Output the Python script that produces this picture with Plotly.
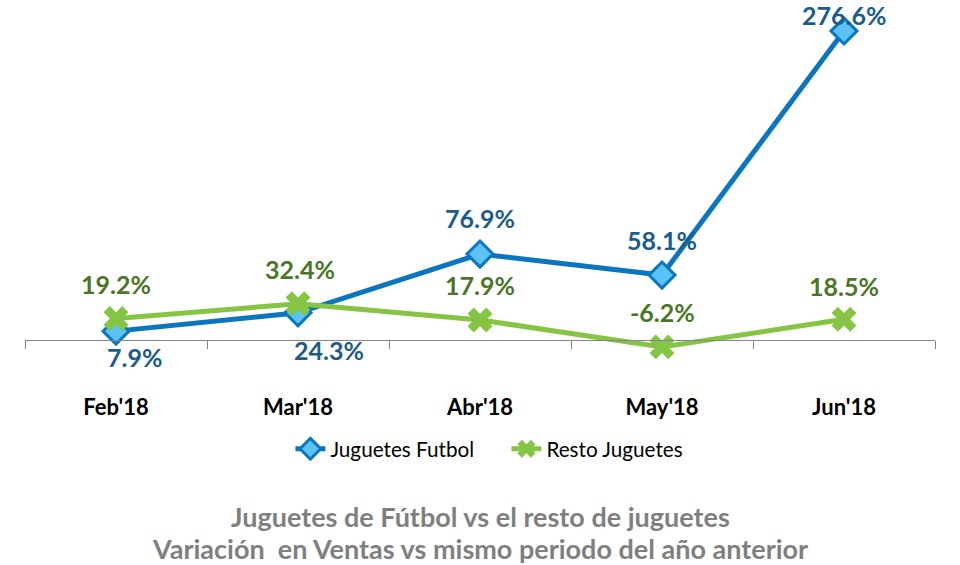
import plotly.graph_objects as go

months = ["Feb'18", "Mar'18", "Abr'18", "May'18", "Jun'18"]
futbol = [7.9, 24.3, 76.9, 58.1, 276.6]
resto = [19.2, 32.4, 17.9, -6.2, 18.5]

# label offsets (px) per point, blue then green
futbol_shift = [(18, -26), (31, -37), (0, 36), (0, 35), (0, 16)]
resto_shift = [(0, 35), (2, 35), (0, 35), (0, 35), (0, 33)]

BLUE = "#0A76C0"
BLUE_FILL = "#5BC2F5"
BLUE_TXT = "#1B5C8C"
GREEN = "#86C543"
GREEN_TXT = "#4A7626"
FONT = "Lato"

fig = go.Figure()
fig.add_trace(go.Scatter(
    x=months, y=futbol, name="Juguetes Futbol", mode="lines+markers",
    line=dict(color=BLUE, width=5),
    marker=dict(symbol="diamond", size=20, color=BLUE_FILL, line=dict(color=BLUE, width=3)),
    cliponaxis=False,
))
fig.add_trace(go.Scatter(
    x=months, y=resto, name="Resto Juguetes", mode="lines+markers",
    line=dict(color=GREEN, width=5),
    marker=dict(symbol="x", size=22, color=GREEN, line=dict(width=0)),
    cliponaxis=False,
))

for vals, shifts, col in [(futbol, futbol_shift, BLUE_TXT), (resto, resto_shift, GREEN_TXT)]:
    for m, v, (dx, dy) in zip(months, vals, shifts):
        fig.add_annotation(
            x=m, y=v, text=f"{v:.1f}%", showarrow=False,
            xshift=dx, yshift=dy,
            font=dict(family=FONT, size=25, color=col, weight="bold"),
        )

ymin, ymax = -26.9, 295.4
zero_pos = (0 - ymin) / (ymax - ymin)

title_font = dict(family=FONT, size=27, color="#7F7F7F", weight="bold")
fig.add_annotation(
    x=0.5, y=-0.406, xref="paper", yref="paper", showarrow=False,
    xanchor="center", yanchor="middle",
    text="Juguetes de Fútbol vs el resto de juguetes", font=title_font,
)
fig.add_annotation(
    x=0.5, y=-0.497, xref="paper", yref="paper", showarrow=False,
    xanchor="center", yanchor="middle",
    text="Variación  en Ventas vs mismo periodo del año anterior", font=title_font,
)

fig.update_layout(
    width=960, height=565,
    margin=dict(l=25, r=25, t=10, b=195),
    paper_bgcolor="white", plot_bgcolor="white",
    showlegend=True,
    legend=dict(
        orientation="h", x=0.529, xanchor="center", y=-0.219, yanchor="middle",
        font=dict(family=FONT, size=20.7, color="black"),
        entrywidth=171, entrywidthmode="pixels",
    ),
    xaxis=dict(
        anchor="free", position=zero_pos,
        showline=True, linecolor="#868686", linewidth=1,
        ticks="outside", tickson="boundaries", ticklen=8, tickcolor="#868686",
        showgrid=False, ticklabelstandoff=48,
        tickfont=dict(family=FONT, size=22, color="black", weight="bold"),
        range=[-0.5, 4.5],
    ),
    yaxis=dict(range=[ymin, ymax], visible=False, showgrid=False, zeroline=False),
)

# drop the default 8px page margin so the figure sits at the window corner
fig.write_html(
    "out.html",
    config={"displayModeBar": False},
    post_script="document.body.style.margin='0';",
)
